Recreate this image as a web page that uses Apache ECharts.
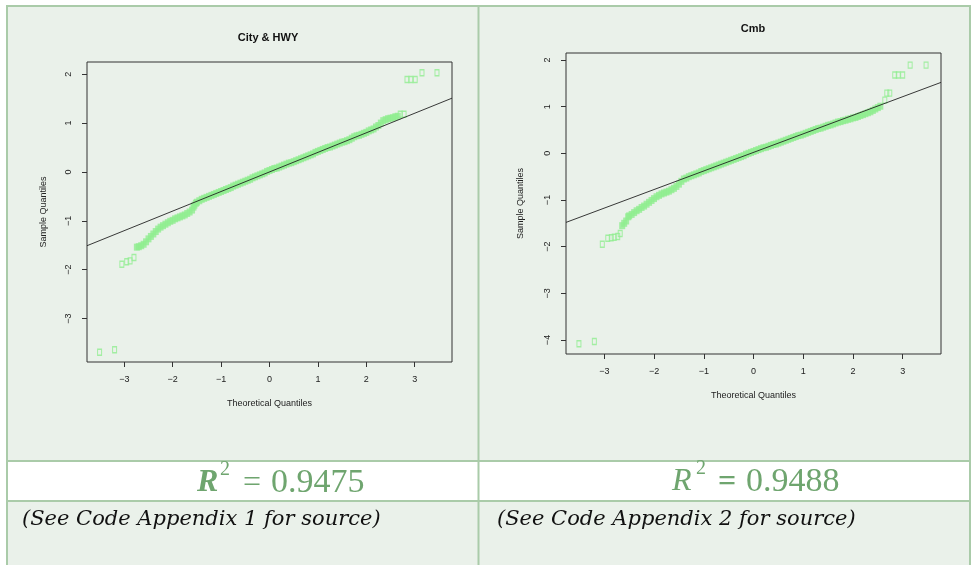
<!DOCTYPE html>
<html>
<head>
<meta charset="utf-8">
<script src="https://cdn.jsdelivr.net/npm/echarts@6/dist/echarts.min.js"></script>
<style>
html,body{margin:0;padding:0;background:#fff;}
#c{width:971px;height:565px;}
</style>
</head>
<body>
<div id="c"></div>
<script>
// ---- Data ----
const titles = ["City & HWY", "Cmb"];
const xTicks = [-3, -2, -1, 0, 1, 2, 3];
const cityYTicks = [-3, -2, -1, 0, 1, 2];
const cmbYTicks = [-4, -3, -2, -1, 0, 1, 2];
const r2Values = ["0.9475", "0.9488"];
const notes = ["(See Code Appendix 1 for source)", "(See Code Appendix 2 for source)"];

// City & HWY: dense body of the Q-Q points
const cityDenseX = [-2.74,-2.70,-2.65,-2.60,-2.55,-2.50,-2.45,-2.40,-2.35,-2.30,-2.25,-2.20,-2.15,-2.10,-2.05,-2.00,-1.95,-1.90,-1.85,-1.80,-1.75,-1.70,-1.65,-1.60,-1.57,-1.55,-1.52,-1.50,-1.45,-1.40,-1.35,-1.30,-1.25,-1.20,-1.15,-1.10,-1.05,
  -1.00,-0.95,-0.90,-0.85,-0.80,-0.75,-0.70,-0.65,-0.60,-0.55,-0.50,-0.45,-0.40,-0.35,-0.30,-0.25,-0.20,-0.15,-0.10,-0.05,
  0.00,0.05,0.10,0.15,0.20,0.25,0.30,0.35,0.40,0.45,0.50,0.55,0.60,0.65,0.70,0.75,0.80,0.85,0.90,0.95,
  1.00,1.05,1.10,1.15,1.20,1.25,1.30,1.35,1.40,1.45,1.50,1.55,1.60,1.65,1.70,1.75,1.80,1.85,1.90,1.95,
  2.00,2.05,2.10,2.15,2.20,2.25,2.30,2.35,2.40,2.45,2.50,2.55,2.60,2.65];
const cityDenseY = [-1.54,-1.53,-1.51,-1.48,-1.43,-1.37,-1.32,-1.27,-1.22,-1.17,-1.13,-1.10,-1.07,-1.04,-1.01,-0.99,-0.96,-0.94,-0.92,-0.90,-0.88,-0.85,-0.82,-0.78,-0.72,-0.68,-0.64,-0.62,-0.59,-0.56,-0.54,-0.52,-0.50,-0.48,-0.46,-0.44,-0.42,
  -0.40,-0.38,-0.36,-0.34,-0.32,-0.29,-0.27,-0.25,-0.23,-0.21,-0.19,-0.17,-0.15,-0.12,-0.10,-0.08,-0.06,-0.04,-0.02,0.01,
  0.03,0.05,0.07,0.08,0.10,0.12,0.14,0.16,0.18,0.19,0.21,0.23,0.25,0.27,0.29,0.31,0.33,0.35,0.37,0.40,
  0.42,0.44,0.46,0.48,0.50,0.51,0.53,0.55,0.57,0.59,0.61,0.62,0.64,0.66,0.69,0.72,0.74,0.75,0.77,0.79,
  0.81,0.84,0.86,0.88,0.92,0.95,1.00,1.05,1.07,1.09,1.10,1.11,1.13,1.14];
// City & HWY: isolated tail points
const cityTailX = [-3.51,-3.20,-3.05,-2.95,-2.88,-2.80,2.70,2.78,2.84,2.92,3.01,3.15,3.46];
const cityTailY = [-3.69,-3.64,-1.89,-1.84,-1.82,-1.75,1.18,1.18,1.89,1.89,1.89,2.03,2.03];
// City & HWY reference line end points
const cityLineX = [-3.77, 3.77];
const cityLineY = [-1.51, 1.51];

// Cmb: dense body
const cmbDenseX = [-2.64,-2.60,-2.56,-2.52,-2.50,-2.45,-2.40,-2.35,-2.30,-2.25,-2.20,-2.15,-2.10,-2.05,-2.00,-1.95,-1.90,-1.85,-1.80,-1.75,-1.70,-1.65,-1.60,-1.55,-1.50,-1.45,-1.40,-1.35,-1.30,-1.25,-1.20,-1.15,-1.10,-1.05,
  -1.00,-0.95,-0.90,-0.85,-0.80,-0.75,-0.70,-0.65,-0.60,-0.55,-0.50,-0.45,-0.40,-0.35,-0.30,-0.25,-0.20,-0.15,-0.10,-0.05,
  0.00,0.05,0.10,0.15,0.20,0.25,0.30,0.35,0.40,0.45,0.50,0.55,0.60,0.65,0.70,0.75,0.80,0.85,0.90,0.95,
  1.00,1.05,1.10,1.15,1.20,1.25,1.30,1.35,1.40,1.45,1.50,1.55,1.60,1.65,1.70,1.75,1.80,1.85,1.90,1.95,
  2.00,2.05,2.10,2.15,2.20,2.25,2.30,2.35,2.40,2.45,2.50,2.55];
const cmbDenseY = [-1.55,-1.50,-1.45,-1.36,-1.34,-1.31,-1.27,-1.23,-1.20,-1.16,-1.13,-1.09,-1.05,-1.01,-0.97,-0.93,-0.90,-0.87,-0.85,-0.83,-0.81,-0.78,-0.75,-0.71,-0.66,-0.60,-0.55,-0.53,-0.50,-0.48,-0.46,-0.44,-0.42,-0.39,
  -0.37,-0.35,-0.33,-0.31,-0.29,-0.27,-0.25,-0.23,-0.21,-0.19,-0.17,-0.15,-0.13,-0.11,-0.09,-0.07,-0.05,-0.02,0.00,0.02,
  0.04,0.06,0.08,0.10,0.12,0.13,0.15,0.17,0.19,0.20,0.22,0.24,0.26,0.28,0.30,0.32,0.34,0.36,0.38,0.39,
  0.41,0.43,0.45,0.47,0.49,0.51,0.53,0.54,0.56,0.58,0.60,0.61,0.63,0.65,0.67,0.68,0.70,0.71,0.73,0.74,
  0.76,0.77,0.79,0.81,0.83,0.85,0.87,0.89,0.92,0.95,0.98,1.01];
// Cmb: isolated tail points
const cmbTailX = [-3.51,-3.20,-3.04,-2.93,-2.86,-2.80,-2.73,-2.68,2.64,2.68,2.74,2.84,2.91,3.00,3.15,3.47];
const cmbTailY = [-4.08,-4.03,-1.95,-1.82,-1.81,-1.80,-1.78,-1.72,1.14,1.29,1.29,1.68,1.68,1.68,1.89,1.89];
// Cmb reference line end points
const cmbLineX = [-3.77, 3.77];
const cmbLineY = [-1.48, 1.52];

// ---- helpers ----
const zip = (a, b) => a.map((v, i) => [v, b[i]]);
const minus = v => String(v).replace('-', '\u2212');
const FONT = 'Liberation Sans, Arial, sans-serif';
const PT_COLOR = '#90EE90';
const BORDER = '#AACBA9';
const CELL_BG = '#EAF1EA';
const R2_COLOR = '#6FA56F';
const R2_FONT = 'Liberation Serif, serif';

function xAxisDef(gi) {
  return {
    type: 'value', gridIndex: gi, min: -3.77, max: 3.77,
    name: 'Theoretical Quantiles', nameLocation: 'middle', nameGap: 37,
    nameTextStyle: { fontFamily: FONT, fontSize: 9, color: '#222' },
    axisLine: { show: false, onZero: false },
    splitLine: { show: false },
    axisTick: { show: true, customValues: xTicks, length: 5, lineStyle: { color: '#333' } },
    axisLabel: { customValues: xTicks, formatter: minus, fontFamily: FONT, fontSize: 9, color: '#222', margin: 13 }
  };
}
function yAxisDef(gi, min, max, ticks, gap) {
  return {
    type: 'value', gridIndex: gi, min: min, max: max,
    name: 'Sample Quantiles', nameLocation: 'middle', nameRotate: 90, nameGap: gap,
    nameTextStyle: { fontFamily: FONT, fontSize: 9, color: '#222' },
    axisLine: { show: false, onZero: false },
    splitLine: { show: false },
    axisTick: { show: true, customValues: ticks, length: 5, lineStyle: { color: '#333' } },
    axisLabel: { customValues: ticks, formatter: minus, rotate: 90, fontFamily: FONT, fontSize: 9, color: '#222', margin: 14 }
  };
}
function dense(gi, xs, ys) {
  return { type: 'scatter', xAxisIndex: gi, yAxisIndex: gi, data: zip(xs, ys), symbol: 'rect', symbolSize: [6, 7],
    itemStyle: { color: PT_COLOR }, z: 2, silent: true };
}
function tail(gi, xs, ys) {
  return { type: 'scatter', xAxisIndex: gi, yAxisIndex: gi, data: zip(xs, ys), symbol: 'rect', symbolSize: [4, 6],
    itemStyle: { color: 'rgba(0,0,0,0)', borderColor: PT_COLOR, borderWidth: 1.2 }, z: 2, silent: true };
}
function refLine(gi, xs, ys) {
  return { type: 'line', xAxisIndex: gi, yAxisIndex: gi, data: zip(xs, ys), symbol: 'none', clip: true,
    lineStyle: { color: '#222', width: 0.9 }, z: 5, silent: true };
}
function txt(x, y, text, font, fill, align) {
  return { type: 'text', x: x, y: y, style: { text: text, fill: fill, font: font, textAlign: align || 'left', textVerticalAlign: 'middle' } };
}

const chart = echarts.init(document.getElementById('c'), null, { renderer: 'canvas' });

const graphics = [
  // table background
  { type: 'rect', shape: { x: 7, y: 6, width: 963, height: 560 }, style: { fill: CELL_BG }, z: -10 },
  { type: 'rect', shape: { x: 7, y: 461, width: 963, height: 40 }, style: { fill: '#fff' }, z: -9 },
  // borders
  { type: 'line', shape: { x1: 7, y1: 6, x2: 971, y2: 6 }, style: { stroke: BORDER, lineWidth: 2 }, z: -8 },
  { type: 'line', shape: { x1: 7, y1: 5, x2: 7, y2: 565 }, style: { stroke: BORDER, lineWidth: 2 }, z: -8 },
  { type: 'line', shape: { x1: 478.5, y1: 5, x2: 478.5, y2: 565 }, style: { stroke: BORDER, lineWidth: 2 }, z: -8 },
  { type: 'line', shape: { x1: 970, y1: 5, x2: 970, y2: 565 }, style: { stroke: BORDER, lineWidth: 2 }, z: -8 },
  { type: 'line', shape: { x1: 6, y1: 461, x2: 971, y2: 461 }, style: { stroke: BORDER, lineWidth: 2 }, z: -8 },
  { type: 'line', shape: { x1: 6, y1: 501, x2: 971, y2: 501 }, style: { stroke: BORDER, lineWidth: 2 }, z: -8 },
  // plot titles
  txt(268, 38, titles[0], 'bold 11px ' + FONT, '#111', 'center'),
  txt(753, 29, titles[1], 'bold 11px ' + FONT, '#111', 'center'),
  // R^2 texts (left)
  txt(197, 483, 'R', 'italic bold 32px ' + R2_FONT, R2_COLOR),
  txt(220, 470, '2', '20px ' + R2_FONT, R2_COLOR),
  txt(243, 484, '=', '32px ' + R2_FONT, R2_COLOR),
  txt(271, 483, r2Values[0], '34px ' + R2_FONT, R2_COLOR),
  // R^2 texts (right)
  txt(672, 482, 'R', 'italic 32px ' + R2_FONT, R2_COLOR),
  txt(696, 469, '2', '20px ' + R2_FONT, R2_COLOR),
  txt(718, 483, '=', 'bold 32px ' + R2_FONT, R2_COLOR),
  txt(746, 482, r2Values[1], '34px ' + R2_FONT, R2_COLOR),
  // notes
  txt(22, 520, notes[0], 'italic 21px DejaVu Serif, serif', '#111'),
  txt(497, 520, notes[1], 'italic 21px DejaVu Serif, serif', '#111')
];

chart.setOption({
  animation: false,
  backgroundColor: '#fff',
  grid: [
    { left: 87, top: 62, width: 365, height: 300, show: true, borderColor: '#333', borderWidth: 1, backgroundColor: 'transparent' },
    { left: 566, top: 53, width: 375, height: 301, show: true, borderColor: '#333', borderWidth: 1, backgroundColor: 'transparent' }
  ],
  xAxis: [xAxisDef(0), xAxisDef(1)],
  yAxis: [yAxisDef(0, -3.89, 2.25, cityYTicks, 39), yAxisDef(1, -4.30, 2.15, cmbYTicks, 41)],
  series: [
    dense(0, cityDenseX, cityDenseY), tail(0, cityTailX, cityTailY), refLine(0, cityLineX, cityLineY),
    dense(1, cmbDenseX, cmbDenseY), tail(1, cmbTailX, cmbTailY), refLine(1, cmbLineX, cmbLineY)
  ],
  graphic: graphics
});
</script>
</body>
</html>
